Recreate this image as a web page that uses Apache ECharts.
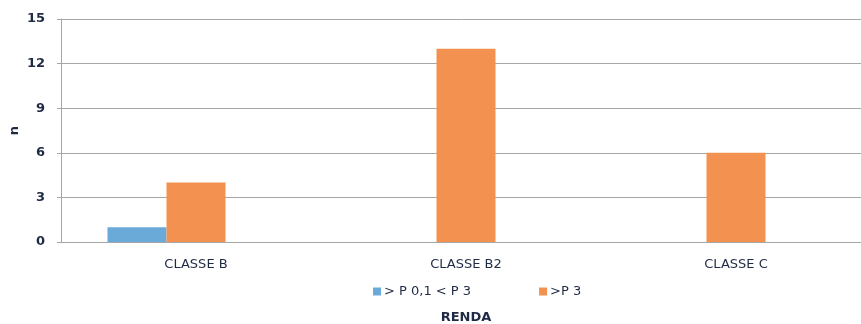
<!DOCTYPE html>
<html>
<head>
<meta charset="utf-8">
<script src="https://cdn.jsdelivr.net/npm/echarts@6/dist/echarts.min.js"></script>
<style>
  html, body { margin: 0; padding: 0; background: #ffffff; }
  #chart { width: 861px; height: 324px; }
</style>
</head>
<body>
<div id="chart"></div>
<script>
// Income classes and counts per percentile group
const categories = ['CLASSE B', 'CLASSE B2', 'CLASSE C'];
const seriesNames = ['> P 0,1 < P 3', '>P 3'];
const lowPercentile = [1, 0, 0];
const highPercentile = [4, 13, 6];
const yTicks = { min: 0, max: 15, interval: 3 };

const textColor = '#1f2a44';
const fontFamily = 'DejaVu Sans, Verdana, sans-serif';

const chart = echarts.init(document.getElementById('chart'), null, { renderer: 'canvas' });

chart.setOption({
  backgroundColor: '#ffffff',
  animation: false,
  textStyle: { fontFamily: fontFamily, color: textColor },
  grid: {
    left: 61, top: 19, width: 810, height: 223,
    containLabel: false,
    outerBoundsMode: 'none'
  },
  legend: {
    data: seriesNames,
    left: 368,
    top: 280,
    itemWidth: 8,
    itemHeight: 8,
    itemGap: 68,
    icon: 'rect',
    textStyle: { fontFamily: fontFamily, fontSize: 13, color: textColor, padding: [0, 0, 0, -2] }
  },
  xAxis: {
    type: 'category',
    data: categories,
    name: 'RENDA',
    nameLocation: 'middle',
    nameGap: 69,
    nameMoveOverlap: false,
    nameTextStyle: { fontFamily: fontFamily, fontSize: 13, fontWeight: 'bold', color: textColor },
    axisLine: { lineStyle: { color: '#a6a6a6', width: 1 } },
    axisTick: { show: false },
    axisLabel: { fontFamily: fontFamily, fontSize: 13, color: textColor, margin: 16 }
  },
  yAxis: {
    type: 'value',
    min: yTicks.min,
    max: yTicks.max,
    interval: yTicks.interval,
    name: 'n',
    nameLocation: 'middle',
    nameGap: 40,
    nameMoveOverlap: false,
    nameRotate: 90,
    nameTextStyle: { fontFamily: fontFamily, fontSize: 13, fontWeight: 'bold', color: textColor },
    axisLine: { show: true, lineStyle: { color: '#a6a6a6', width: 1 } },
    axisTick: { show: true, length: 4, lineStyle: { color: '#a6a6a6' } },
    axisLabel: { fontFamily: fontFamily, fontSize: 13, fontWeight: 'bold', color: textColor, margin: 16 },
    splitLine: { show: true, lineStyle: { color: '#a6a6a6', width: 1 } }
  },
  series: [
    {
      name: seriesNames[0],
      type: 'bar',
      data: lowPercentile,
      barWidth: 59,
      barGap: '0%',
      itemStyle: { color: '#6aaad9' }
    },
    {
      name: seriesNames[1],
      type: 'bar',
      data: highPercentile,
      barWidth: 59,
      barGap: '0%',
      itemStyle: { color: '#f39250' }
    },
    {
      // empty third slot keeps the group layout of the original workbook
      name: '',
      type: 'bar',
      data: [null, null, null],
      barWidth: 59,
      barGap: '0%',
      silent: true
    }
  ]
});
</script>
</body>
</html>
